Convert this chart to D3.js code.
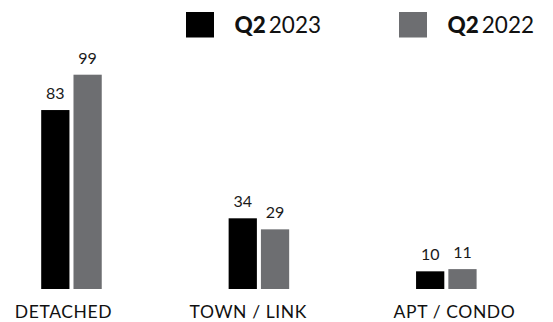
<!DOCTYPE html>
<html><head><meta charset="utf-8">
<script src="https://cdn.jsdelivr.net/npm/d3@7"></script>
<style>
html,body{margin:0;padding:0;background:#fff;}
svg{display:block;font-family:Lato,"Open Sans",sans-serif;}
</style></head>
<body>
<svg id="chart" width="553" height="322"></svg>
<script>
const categories = ["DETACHED", "TOWN / LINK", "APT / CONDO"];
const seriesNames = ["2023", "2022"];
const seriesLabels = ["Q2 2023", "Q2 2022"];
const values2023 = [83, 34, 10];
const values2022 = [99, 29, 11];
const colors = ["#000000", "#6d6e71"];

const svg = d3.select("#chart");
const baseY = 289;

const x0 = d3.scaleBand().domain(categories).range([41.2, 476.6]).paddingInner(0.677).paddingOuter(0);
const x1 = d3.scaleBand().domain(seriesNames).range([0, x0.bandwidth()]).paddingInner(0.125);
const y = d3.scaleLinear().domain([2, 99]).range([baseY, 74.7]);
const labelX = d3.scaleOrdinal(categories, [63.5, 248.3, 454.5]);

const data = categories.map((c, i) => ({cat: c, vals: [values2023[i], values2022[i]]}));

const g = svg.append("g");
const groups = g.selectAll("g.grp").data(data).join("g")
  .attr("class", "grp")
  .attr("transform", d => `translate(${x0(d.cat)},0)`);

groups.selectAll("rect").data(d => d.vals.map((v, j) => ({v, s: seriesNames[j], j}))).join("rect")
  .attr("x", d => x1(d.s))
  .attr("width", x1.bandwidth())
  .attr("y", d => y(d.v))
  .attr("height", d => baseY - y(d.v))
  .attr("fill", d => colors[d.j]);

groups.selectAll("text.val").data(d => d.vals.map((v, j) => ({v, s: seriesNames[j], j}))).join("text")
  .attr("class", "val")
  .attr("x", d => x1(d.s) + x1.bandwidth() / 2)
  .attr("y", d => y(d.v) - 11)
  .attr("text-anchor", "middle")
  .attr("font-size", 16)
  .attr("font-weight", 400)
  .attr("fill", "#1a1a1a")
  .text(d => d.v);

svg.selectAll("text.cat").data(categories).join("text")
  .attr("class", "cat")
  .attr("x", d => labelX(d))
  .attr("y", 317.7)
  .attr("text-anchor", "middle")
  .attr("font-size", 17.5)
  .attr("fill", "#111")
  .attr("letter-spacing", 0.6)
  .text(d => d);

// legend
const legendX = d3.scaleOrdinal(seriesNames, [186, 399]);
const leg = svg.selectAll("g.leg").data(seriesNames).join("g")
  .attr("class", "leg")
  .attr("transform", d => `translate(${legendX(d)},12)`);
leg.append("rect").attr("width", 28).attr("height", 25.5).attr("fill", (d, i) => colors[i]);
const lt = leg.append("text").attr("x", 48.5).attr("y", 21.3).attr("font-size", 22.5).attr("fill", "#111");
lt.append("tspan").attr("font-weight", 900).text((d, i) => seriesLabels[i].split(" ")[0]);
lt.append("tspan").attr("dx", 3).attr("font-weight", 400).text((d, i) => seriesLabels[i].split(" ")[1]);
</script>
</body></html>
